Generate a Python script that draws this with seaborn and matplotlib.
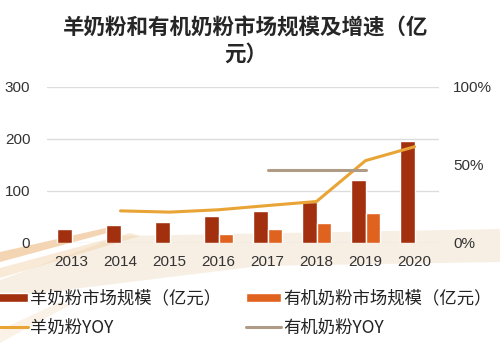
import numpy as np
import pandas as pd
import matplotlib
matplotlib.use("Agg")
import matplotlib.pyplot as plt
import seaborn as sns
from matplotlib.patches import Patch, Polygon
from matplotlib.lines import Line2D

years = ['2013', '2014', '2015', '2016', '2017', '2018', '2019', '2020']
goat_size = [27, 34, 41, 51, 62, 79, 122, 197]
organic_size = [np.nan, np.nan, np.nan, 17, 26, 38, 57, np.nan]
goat_yoy = [np.nan, 20.6, 19.8, 21.3, 24.0, 26.6, 52.8, 61.7]
organic_yoy = [np.nan, np.nan, np.nan, np.nan, 47, 47, 47, np.nan]

name_goat = '羊奶粉市场规模（亿元）'
name_org = '有机奶粉市场规模（亿元）'
name_goat_yoy = '羊奶粉YOY'
name_org_yoy = '有机奶粉YOY'
title = '羊奶粉和有机奶粉市场规模及增速（亿\n元）'

c_goat = '#A2300F'
c_org = '#E0621F'
c_goat_l = '#E9A436'
c_org_l = '#B09C86'

sns.set_theme(style='white')
plt.rcParams['font.family'] = ['Liberation Sans', 'Noto Sans CJK SC', 'DejaVu Sans']

df = pd.DataFrame({
    'year': years * 2,
    'value': goat_size + organic_size,
    'series': [name_goat] * len(years) + [name_org] * len(years),
})

fig = plt.figure(figsize=(5, 3.43), dpi=100)
H = 343.0
def fy(y):
    return 1 - y / H
# decorative background texture
bg = [
    ([(0, 280), (120, 236), (500, 229), (500, 262), (260, 266), (0, 298)], '#F6EADB', 0.75),
    ([(0, 252), (110, 227), (122, 229), (0, 262)], '#E6A35A', 0.45),
    ([(0, 268), (130, 233), (140, 236), (0, 278)], '#F0CB9C', 0.4),
    ([(0, 330), (60, 302), (70, 305), (0, 343)], '#F4E0C4', 0.4),
]
for pts, col, a in bg:
    fig.patches.append(Polygon([(x / 500, fy(y)) for x, y in pts], closed=True,
                               transform=fig.transFigure, facecolor=col,
                               edgecolor='none', alpha=a, zorder=-5))

ax = fig.add_axes([47 / 500, fy(243), 392 / 500, 156 / H])
ax.patch.set_visible(False)
sns.barplot(data=df, x='year', y='value', hue='series', ax=ax,
            palette=[c_goat, c_org], width=0.6, saturation=1, legend=False)
ax.set_ylim(0, 300)
ax.set_xlim(-0.5, 7.5)
ax.set_yticks([0, 100, 200, 300])
ax.yaxis.grid(True, color='#DCDCDC', linewidth=1)
ax.set_axisbelow(True)
ax.set_xlabel('')
ax.set_ylabel('')
for s in ax.spines.values():
    s.set_visible(False)
ax.tick_params(axis='y', length=0, pad=12, labelsize=11, labelcolor='#333333')
ax.tick_params(axis='x', length=0, pad=9, labelsize=11, labelcolor='#333333')

ax2 = ax.twinx()
ax2.patch.set_visible(False)
xs = np.arange(len(years))
ldf = pd.DataFrame({'x': xs, 'goat': goat_yoy, 'org': organic_yoy})
g = ldf.dropna(subset=['goat'])
o = ldf.dropna(subset=['org'])
sns.lineplot(x=g['x'], y=g['goat'], ax=ax2, color=c_goat_l, linewidth=2.2)
sns.lineplot(x=o['x'], y=o['org'], ax=ax2, color=c_org_l, linewidth=2.2)
ax2.set_ylim(0, 100)
ax2.set_xlim(-0.5, 7.5)
ax2.set_yticks([0, 50, 100])
ax2.set_yticklabels(['0%', '50%', '100%'])
ax2.set_ylabel('')
ax2.set_xlabel('')
for s in ax2.spines.values():
    s.set_visible(False)
ax2.tick_params(axis='y', length=0, pad=10, labelsize=11, labelcolor='#333333')

fig.text(0.492, fy(41), title, ha='center', va='center', fontsize=15.5,
         fontweight='bold', family=['Noto Sans CJK SC'], linespacing=1.3)

handles = [Patch(facecolor=c_goat), Line2D([0], [0], color=c_goat_l, lw=2.2),
           Patch(facecolor=c_org), Line2D([0], [0], color=c_org_l, lw=2.2)]
labels = [name_goat, name_goat_yoy, name_org, name_org_yoy]
leg = fig.legend(handles, labels, ncol=2, loc='upper left',
                 bbox_to_anchor=(-0.045, fy(274)), frameon=False,
                 handlelength=2.0, handleheight=0.5, handletextpad=0.15,
                 columnspacing=1.4, labelspacing=0.62,
                 prop={'family': ['Noto Sans CJK SC'], 'size': 12.5})
for t in leg.get_texts():
    t.set_color('#222222')

fig.savefig('out.png', dpi=100)
